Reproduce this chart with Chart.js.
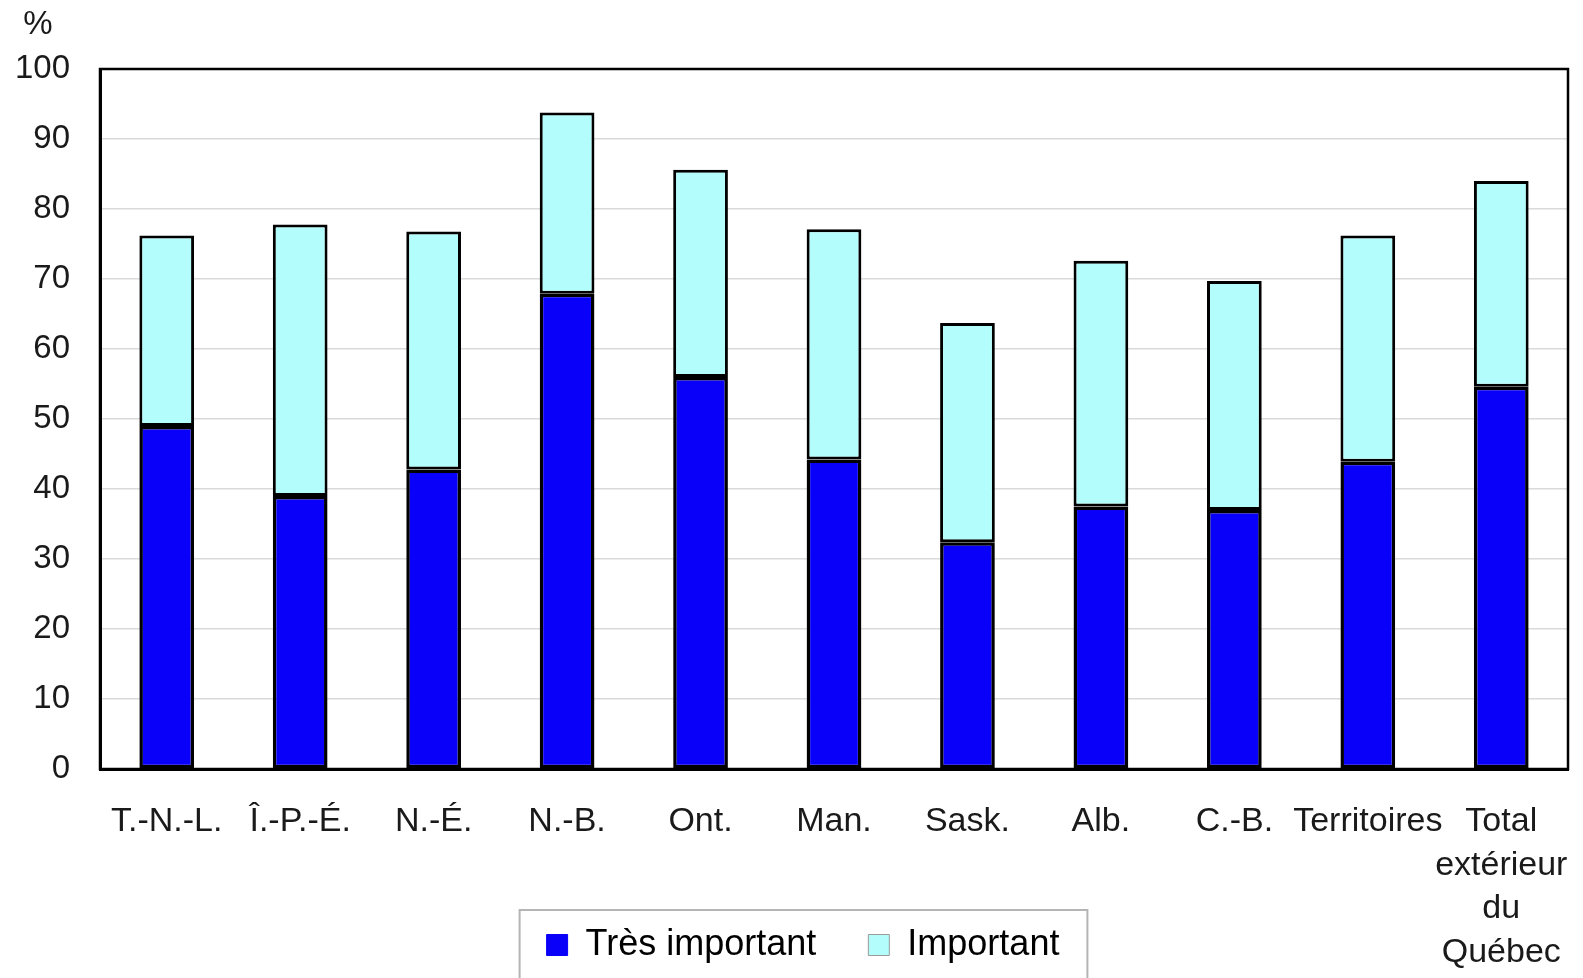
<!DOCTYPE html>
<html>
<head>
<meta charset="utf-8">
<script src="https://cdn.jsdelivr.net/npm/chart.js@4"></script>
<style>
  html, body { margin: 0; padding: 0; background: #fff; }
  #wrap { width: 1583px; height: 978px; position: relative; }
</style>
</head>
<body>
<div id="wrap"><canvas id="chart"></canvas></div>
<script>
// data
const categories = ['T.-N.-L.', 'Î.-P.-É.', 'N.-É.', 'N.-B.', 'Ont.', 'Man.', 'Sask.', 'Alb.', 'C.-B.', 'Territoires', ['Total', 'extérieur', 'du', 'Québec']];
const tresImportant = [49.0, 39.0, 42.8, 67.9, 56.0, 44.2, 32.4, 37.5, 37.0, 43.9, 54.6];
const important = [27.2, 38.8, 34.0, 25.9, 29.6, 32.9, 31.3, 35.1, 32.7, 32.3, 29.4];
const seriesNames = ['Très important', 'Important'];
const yTicks = [0, 10, 20, 30, 40, 50, 60, 70, 80, 90, 100];

const FONT = 'Liberation Sans, Arial, sans-serif';

// frame around the plot + "%" label + box around the legend
const extras = {
  id: 'extras',
  afterLayout(chart) {
    // legend sits a bit right of the canvas centre
    chart.legend.left += 14;
    chart.legend.right += 14;
  },
  beforeDraw(chart) {
    // let the multi-line last label run past the axis box (no clipping)
    chart.scales.x.bottom = chart.height;
  },
  afterDraw(chart) {
    const ctx = chart.ctx;
    const a = chart.chartArea;
    ctx.save();
    ctx.strokeStyle = '#000';
    ctx.lineWidth = 2.5;
    ctx.strokeRect(a.left, a.top, a.right - a.left, a.bottom - a.top);

    ctx.fillStyle = '#1a1a1a';
    ctx.font = '33px ' + FONT;
    ctx.textAlign = 'center';
    ctx.textBaseline = 'middle';
    ctx.fillText('%', 38, 25);

    const hb = chart.legend.legendHitBoxes;
    if (hb && hb.length) {
      const l = hb[0].left - 27;
      const r = hb[hb.length - 1].left + hb[hb.length - 1].width + 28;
      ctx.strokeStyle = '#b5b5b5';
      ctx.lineWidth = 2;
      ctx.strokeRect(l, 910, r - l, 100);
    }
    ctx.restore();
  }
};

new Chart(document.getElementById('chart'), {
  type: 'bar',
  data: {
    labels: categories,
    datasets: [
      {
        label: seriesNames[0],
        data: tresImportant,
        backgroundColor: '#0800f8',
        borderColor: '#000',
        borderWidth: 3.5,
        borderSkipped: false
      },
      {
        label: seriesNames[1],
        data: important,
        backgroundColor: '#b3fdfd',
        borderColor: '#000',
        borderWidth: 3,
        borderSkipped: false
      }
    ]
  },
  options: {
    responsive: true,
    maintainAspectRatio: false,
    animation: false,
    datasets: { bar: { barPercentage: 0.41, categoryPercentage: 1 } },
    layout: { padding: { left: 10, right: 15, top: 69, bottom: 5 } },
    plugins: {
      tooltip: { enabled: false },
      legend: {
        position: 'bottom',
        labels: {
          color: '#1a1a1a',
          font: { family: FONT, size: 36 },
          boxWidth: 21,
          boxHeight: 21,
          padding: 52,
          generateLabels(chart) {
            return chart.data.datasets.map((ds, i) => ({
              text: ds.label,
              fillStyle: ds.backgroundColor,
              strokeStyle: i === 0 ? ds.backgroundColor : '#9a9a9a',
              lineWidth: 1,
              datasetIndex: i,
              hidden: false
            }));
          }
        }
      }
    },
    scales: {
      x: {
        stacked: true,
        grid: { display: false, drawTicks: false },
        border: { color: '#000', width: 3 },
        ticks: {
          color: '#1a1a1a',
          font: { family: FONT, size: 34, lineHeight: 1.28 },
          padding: 31,
          maxRotation: 0,
          autoSkip: false
        },
        afterFit(scale) {
          scale.height = 106;
          scale.paddingLeft = 0;
          scale.paddingRight = 0;
        }
      },
      y: {
        stacked: true,
        min: 0,
        max: 100,
        afterBuildTicks(scale) { scale.ticks = yTicks.map(v => ({ value: v })); },
        grid: { color: '#dadada', lineWidth: 1.5, drawTicks: false },
        border: { color: '#000', width: 3 },
        ticks: {
          color: '#1a1a1a',
          font: { family: FONT, size: 33 },
          padding: 30
        },
        afterFit(scale) { scale.width = 90; }
      }
    }
  },
  plugins: [extras]
});
</script>
</body>
</html>
